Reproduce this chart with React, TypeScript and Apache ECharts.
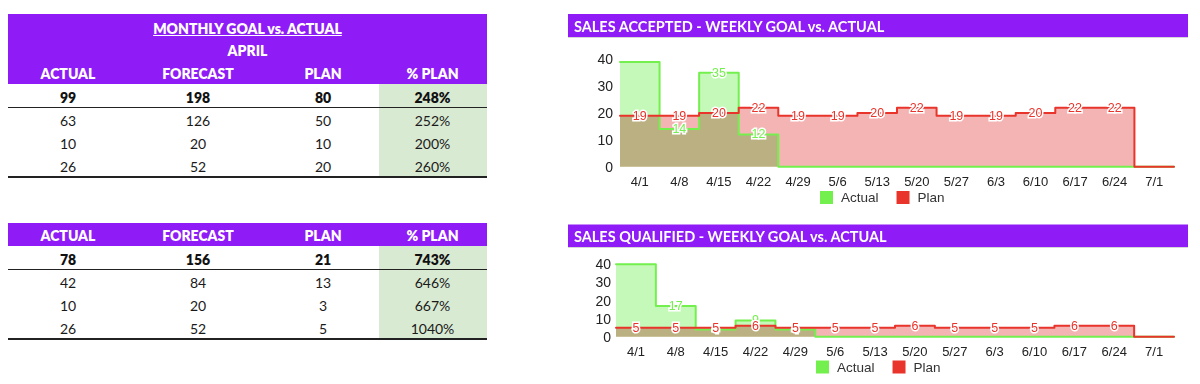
import React, { useEffect, useRef } from "react";
import * as echarts from "echarts";

// ---------- data ----------
const weeks = ["4/1", "4/8", "4/15", "4/22", "4/29", "5/6", "5/13", "5/20", "5/27", "6/3", "6/10", "6/17", "6/24", "7/1"];
const acceptedActual = [39, 14, 35, 12, 0, 0, 0, 0, 0, 0, 0, 0, 0, 0];
const acceptedPlan = [19, 19, 20, 22, 19, 19, 20, 22, 19, 19, 20, 22, 22, 0];
const qualifiedActual = [40, 17, 4, 9, 4, 0, 0, 0, 0, 0, 0, 0, 0, 0];
const qualifiedPlan = [5, 5, 5, 6, 5, 5, 5, 6, 5, 5, 5, 6, 6, 0];
const yMin = 0;
const yMax = 40;
const yInterval = 10;
const seriesNames = ["Actual", "Plan"];
const chartTitles = ["SALES ACCEPTED - WEEKLY GOAL vs. ACTUAL", "SALES QUALIFIED - WEEKLY GOAL vs. ACTUAL"];

const tableTitle = "MONTHLY GOAL vs. ACTUAL";
const tableMonth = "APRIL";
const tableHeaders = ["ACTUAL", "FORECAST", "PLAN", "% PLAN"];
const acceptedRows = [
  ["99", "198", "80", "248%"],
  ["63", "126", "50", "252%"],
  ["10", "20", "10", "200%"],
  ["26", "52", "20", "260%"],
];
const qualifiedRows = [
  ["78", "156", "21", "743%"],
  ["42", "84", "13", "646%"],
  ["10", "20", "3", "667%"],
  ["26", "52", "5", "1040%"],
];

// ---------- styles ----------
const PURPLE = "#8f1cf6";
const CELL_GREEN = "#d9ead3";
const GREEN = "#74f04e";
const GREEN_AREA = "#c4f9b9";
const RED = "#e8342b";
const PINK_AREA = "#f4b4b3";
const CHART_FONT = "'Liberation Sans', Arial, sans-serif";
const TABLE_FONT = "Lato, 'Open Sans', sans-serif";
const colX = [68, 198, 323, 432.5];

function stepPoints(vals: number[]) {
  const pts: number[][] = vals.map((v, i) => [i, v]);
  pts.push([vals.length, vals[vals.length - 1]]);
  return pts;
}

function chartSeries(g: number, actual: number[], plan: number[]) {
  const vx = g * 2;
  const cx = g * 2 + 1;
  const common = { type: "line", step: "end", symbol: "none", xAxisIndex: vx, yAxisIndex: g, silent: true, clip: false };
  const labelBase = {
    show: true,
    position: "inside",
    formatter: "{c}",
    fontSize: 12.5,
    fontFamily: CHART_FONT,
    textBorderColor: "#ffffff",
    textBorderWidth: 3,
  };
  return [
    { ...common, name: "actualArea" + g, data: stepPoints(actual), lineStyle: { width: 0, opacity: 0 }, areaStyle: { color: GREEN_AREA, opacity: 1 }, z: 1 },
    { ...common, name: "planArea" + g, data: stepPoints(plan), lineStyle: { width: 0, opacity: 0 }, areaStyle: { color: PINK_AREA, opacity: 1 }, z: 1 },
    { ...common, name: seriesNames[0], color: GREEN, data: stepPoints(actual), lineStyle: { width: 2, color: GREEN, join: "round", cap: "round" }, z: 2 },
    { ...common, name: seriesNames[1], color: RED, data: stepPoints(plan), lineStyle: { width: 2, color: RED, join: "round", cap: "round" }, z: 3 },
    {
      type: "scatter",
      name: "actualLabels" + g,
      xAxisIndex: cx,
      yAxisIndex: g,
      silent: true,
      symbolSize: 1,
      itemStyle: { color: "rgba(0,0,0,0)", opacity: 1 },
      label: { ...labelBase, color: GREEN },
      data: actual.map((v) => ({ value: v, label: { show: v > 0 && v < yMax - 2 } })),
      z: 4,
    },
    {
      type: "scatter",
      name: "planLabels" + g,
      xAxisIndex: cx,
      yAxisIndex: g,
      silent: true,
      symbolSize: 1,
      itemStyle: { color: "rgba(0,0,0,0)", opacity: 1 },
      label: { ...labelBase, color: RED },
      data: plan.map((v) => ({ value: v, label: { show: v > 0 } })),
      z: 5,
    },
  ];
}

function xAxes(g: number) {
  return [
    { gridIndex: g, type: "value", min: 0, max: weeks.length, show: false, position: "bottom" },
    {
      gridIndex: g,
      type: "category",
      position: "bottom",
      data: weeks,
      boundaryGap: true,
      axisLine: { show: false },
      axisTick: { show: false },
      splitLine: { show: false },
      axisLabel: { fontSize: 13, color: "#222", fontFamily: CHART_FONT, margin: 8 },
    },
  ];
}

function yAxis(g: number, margin: number) {
  return {
    gridIndex: g,
    type: "value",
    min: yMin,
    max: yMax,
    interval: yInterval,
    axisLine: { show: false },
    axisTick: { show: false },
    splitLine: { show: false },
    axisLabel: { fontSize: 14, color: "#222", fontFamily: CHART_FONT, margin },
  };
}

function legend(left: number, top: number) {
  return {
    left,
    top,
    padding: 0,
    icon: "rect",
    itemWidth: 13,
    itemHeight: 13,
    itemGap: 18,
    selectedMode: false,
    textStyle: { fontSize: 13.5, color: "#333", fontFamily: CHART_FONT, padding: [0, 0, 0, 3] },
    data: [
      { name: seriesNames[0], itemStyle: { color: GREEN, borderWidth: 0 } },
      { name: seriesNames[1], itemStyle: { color: RED, borderWidth: 0 } },
    ],
  };
}

function titleBar(y: number, h: number, text: string) {
  return [
    { type: "rect", shape: { x: 568, y, width: 620, height: h }, style: { fill: PURPLE }, silent: true },
    { type: "rect", shape: { x: 568, y: y + h, width: 620, height: 1 }, style: { fill: "#d6d6d6" }, silent: true },
    {
      type: "text",
      x: 574,
      y: y + h / 2 + 0.5,
      silent: true,
      style: { text, fill: "#ffffff", font: `bold 14.5px ${TABLE_FONT}`, verticalAlign: "middle", align: "left" },
    },
  ];
}

function Table(props: { top: number; rows: string[][]; withTitle: boolean }) {
  const { top, rows, withTitle } = props;
  const headH = withTitle ? 70 : 23.5;
  const rowTop = top + headH;
  const rowH = 23;
  const txt = (cx: number, cy: number, s: string, extra: any = {}) => (
    <div
      key={s + cx + cy}
      style={{
        position: "absolute",
        left: cx - 80,
        width: 160,
        top: cy - 10,
        height: 20,
        lineHeight: "20px",
        textAlign: "center",
        fontFamily: TABLE_FONT,
        fontSize: 14,
        color: "#1a1a1a",
        whiteSpace: "nowrap",
        ...extra,
      }}
    >
      {s}
    </div>
  );
  const headerY = top + headH - 10;
  return (
    <>
      <div style={{ position: "absolute", left: 8, top, width: 479, height: headH, background: PURPLE }} />
      <div style={{ position: "absolute", left: 378.5, top: rowTop, width: 108.5, height: rowH * 4, background: CELL_GREEN }} />
      {withTitle &&
        txt(247.5, top + 14.5, tableTitle, { color: "#fff", fontWeight: 800, textDecoration: "underline", width: 300, left: 97.5 })}
      {withTitle && txt(247.5, top + 37, tableMonth, { color: "#fff", fontWeight: 800 })}
      {tableHeaders.map((h, i) => txt(colX[i], headerY, h, { color: "#fff", fontWeight: 800 }))}
      {rows.map((r, ri) =>
        r.map((c, ci) => txt(colX[ci], rowTop + 13.5 + ri * rowH, c, ri === 0 ? { fontWeight: 800, color: "#111" } : {}))
      )}
      <div style={{ position: "absolute", left: 8, top: rowTop + rowH - 0.5, width: 479, height: 1.5, background: "#222" }} />
      <div style={{ position: "absolute", left: 8, top: rowTop + rowH * 4 - 0.5, width: 479, height: 2, background: "#222" }} />
    </>
  );
}

// multiply-blend the plan area onto the actual area (overlap shows as tan, as in the reference)
const blendCss = `
.chart-host path[fill="${PINK_AREA}"],
.chart-host g:has(path[fill="${PINK_AREA}"]) { mix-blend-mode: multiply; }
`;

export default function App() {
  const ref = useRef<HTMLDivElement>(null);

  useEffect(() => {
    if (!ref.current) return;
    const chart = echarts.init(ref.current, undefined, { renderer: "svg" });
    chart.setOption({
      animation: false,
      grid: [
        { left: 620, top: 59.3, width: 554, height: 107.4, outerBoundsMode: "none" },
        { left: 616, top: 264.3, width: 558, height: 72.4, outerBoundsMode: "none" },
      ],
      xAxis: [...xAxes(0), ...xAxes(1)],
      yAxis: [yAxis(0, 7), yAxis(1, 5)],
      legend: [legend(820, 190.5), legend(816, 360)],
      graphic: [...titleBar(14, 23, chartTitles[0]), ...titleBar(224.5, 22.5, chartTitles[1])],
      series: [...chartSeries(0, acceptedActual, acceptedPlan), ...chartSeries(1, qualifiedActual, qualifiedPlan)],
    });
    return () => chart.dispose();
  }, []);

  return (
    <div style={{ position: "absolute", left: 0, top: 0, width: 1200, height: 384, background: "#fff", overflow: "hidden" }}>
      <style>{blendCss}</style>
      <div ref={ref} className="chart-host" style={{ position: "absolute", left: 0, top: 0, width: 1200, height: 384 }} />
      <Table top={14} rows={acceptedRows} withTitle={true} />
      <Table top={222.7} rows={qualifiedRows} withTitle={false} />
    </div>
  );
}
